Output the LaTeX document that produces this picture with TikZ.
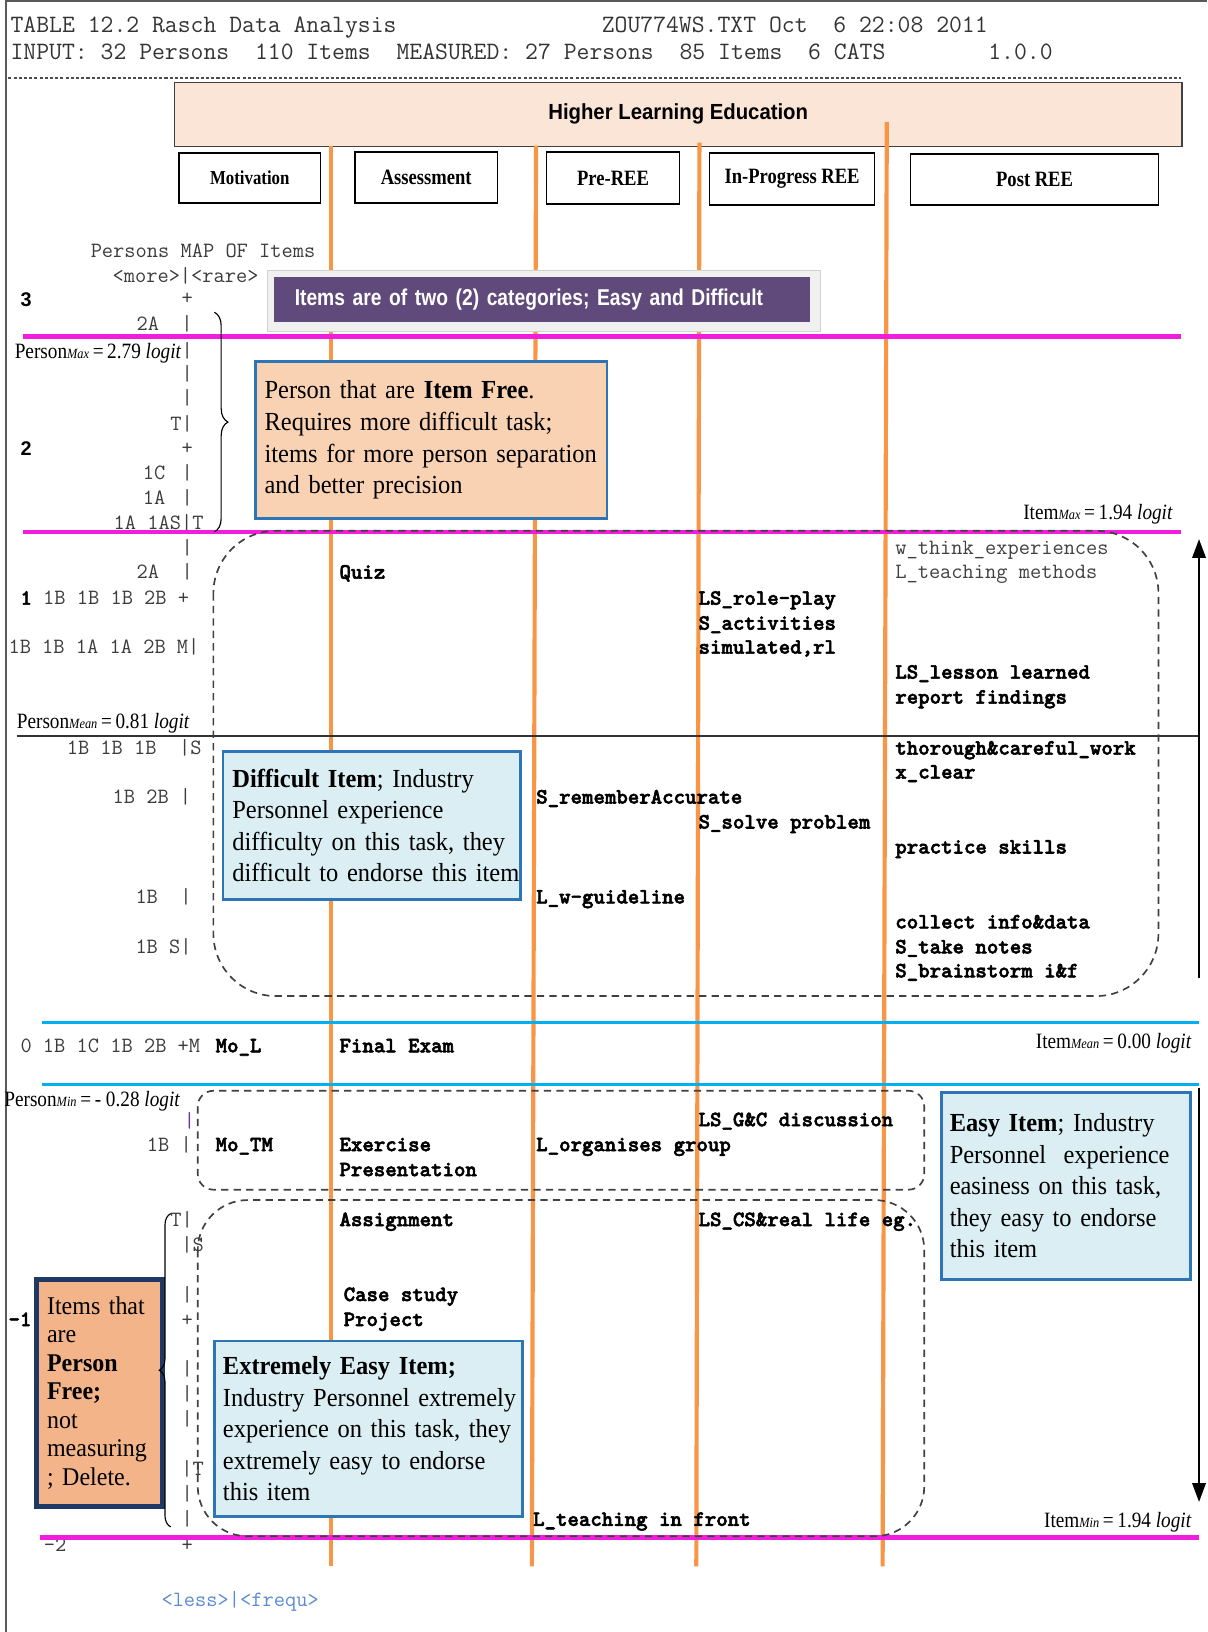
\documentclass[tikz,border=0pt]{standalone}
\usepackage{fontspec}
\setmainfont{Liberation Serif}
\newfontfamily\monob{lmmonolt10-bold.otf}[FakeBold=2.5]
\newfontfamily\hlsans[FakeStretch=0.93]{Liberation Sans}
\newfontfamily\ppsans[FakeStretch=0.84]{Liberation Sans}
\newfontfamily\nserif[FakeStretch=0.88]{Liberation Serif}
\newfontfamily\bserif[FakeStretch=0.85]{Liberation Serif}
\newfontfamily\cserif[FakeStretch=0.94]{Liberation Serif}
\newfontfamily\numsans{Liberation Sans}
\usetikzlibrary{arrows.meta,decorations.pathreplacing}
\definecolor{orangeL}{HTML}{F79646}
\definecolor{magL}{HTML}{F01EDC}
\definecolor{cyanL}{HTML}{00B0F0}
\definecolor{hdrfill}{HTML}{FBE5D6}
\definecolor{peach}{HTML}{F9D2B3}
\definecolor{lblue}{HTML}{DAEEF3}
\definecolor{bborder}{HTML}{2E75B6}
\definecolor{purp}{HTML}{604A7B}
\definecolor{navy}{HTML}{203864}
\definecolor{pfree}{HTML}{F3B48A}
\definecolor{maptxt}{HTML}{3C3C3C}
\definecolor{lessblue}{HTML}{5B8BD0}
\definecolor{pipepurple}{HTML}{7030A0}
\newcommand{\lgl}[3]{#1{\fontsize{13.5}{14}\selectfont\itshape #2}\,=\,#3 \textit{logit}}
\begin{document}
\begin{tikzpicture}[x=1pt,y=-1pt,
 mapt/.style={font={\ttfamily\fontsize{20.95}{24}\selectfont}, text=maptxt, inner sep=0pt, anchor=base west},
 pip/.style={mapt, anchor=base},
 colt/.style={font={\monob\fontsize{20.95}{24}\selectfont}, text=black, inner sep=0pt, anchor=base west},
 colr/.style={font={\ttfamily\fontsize{20.95}{24}\selectfont}, text=black!75, inner sep=0pt, anchor=base west},
 hdrt/.style={font={\ttfamily\fontsize{24}{26}\selectfont}, text=black!80, inner sep=0pt, anchor=base west},
 lglw/.style={font={\nserif\fontsize{21}{24}\selectfont}, inner sep=0pt, anchor=base west},
 lgle/.style={lglw, anchor=base east},
 subbox/.style={draw=black, line width=1.2pt, fill=white, font={\bserif\bfseries\fontsize{21}{24}\selectfont}, inner sep=0pt},
 callout/.style={draw=bborder, line width=2.5pt, fill=lblue, font={\cserif\fontsize{25}{30.3}\selectfont}, align=left, inner xsep=9pt, inner ysep=0pt, anchor=north west},
 dbox/.style={draw=black!75, dash pattern=on 7pt off 5pt, line width=1.6pt},
 orl/.style={orangeL, line width=4pt},
 magl/.style={magL, line width=4.5pt},
 cyl/.style={cyanL, line width=3pt},
 numb/.style={font={\numsans\bfseries\fontsize{19}{22}\selectfont}, text=black, inner sep=0pt, anchor=base},
]
\useasboundingbox (0,0) rectangle (1160,1568);
\fill[white] (0,0) rectangle (1160,1568);
% frame
\draw[black!65, line width=2pt] (6,0) -- (6,1568);
\draw[black!65, line width=2pt] (6,1) -- (1160,1);
% header text
\node[hdrt] (h1) at (10,31) {TABLE 12.2 Rasch Data Analysis};
\node[hdrt] (h2) at (578,31) {ZOU774WS.TXT Oct~~6 22:08 2011};
\node[hdrt] (h3) at (10,57) {INPUT: 32 Persons~~110 Items~~MEASURED: 27 Persons~~85 Items~~6 CATS~~~~~~~~1.0.0};
\draw[black!70, dash pattern=on 3pt off 2pt, line width=1.2pt] (8,75) -- (1135,75);
% header boxes
\node[draw=black!75, line width=1.2pt, fill=hdrfill, minimum width=968pt, minimum height=61pt, anchor=north west, inner sep=0pt,
  font={\hlsans\bfseries\fontsize{21}{24}\selectfont}] (hle) at (167,79) {\raisebox{6pt}{Higher Learning Education}};
\node[subbox, minimum width=136pt, minimum height=48pt, font={\bserif\bfseries\fontsize{19}{22}\selectfont}] (mot) at (240,171) {Motivation};
\node[subbox, minimum width=137pt, minimum height=49pt] (ass) at (409.5,170.5) {Assessment};
\node[subbox, minimum width=128pt, minimum height=50pt] (pre) at (589,171) {Pre-REE};
\node[subbox, minimum width=158pt, minimum height=50pt] (inp) at (761,172) {In-Progress REE};
\node[subbox, minimum width=238pt, minimum height=49pt] (post) at (994,172.5) {Post REE};
% orange column lines
\draw[orl] (318,140) -- (318,1505);
\draw[orl] (515,140) -- (511,1505);
\draw[orl] (672,137) -- (669,1505);
\draw[orl] (852,117) -- (848,1505);
% map header
\node[mapt] (mh1) at (87,247) {Persons MAP OF Items};
\node[mapt] (mh2) at (108,271) {<more>|<rare>};
% map rows
\node[numb] (n3) at (25,294) {3};
\node[pip] (p287) at (180,293) {+};
\node[mapt] (r312) at (131,318) {2A~~|};
\node[pip] (p337) at (180,343) {|};
\node[pip] (p360) at (180,366) {|};
\node[pip] (p383) at (180,389) {|};
\node[mapt] (r408) at (163.5,414) {T|};
\node[numb] (n2) at (25,438) {2};
\node[pip] (p431) at (180,437) {+};
\node[mapt, anchor=base east] (r455) at (159,461) {1C};
\node[pip] (p455) at (180,461) {|};
\node[mapt, anchor=base east] (r479) at (159,485) {1A};
\node[pip] (p479) at (180,485) {|};
\node[mapt] (r503) at (109,509) {1A 1AS|T};
\node[pip] (p527) at (180,533) {|};
\node[mapt, anchor=base east] (r550) at (153,556) {2A};
\node[pip] (p550) at (180,556) {|};
\node[mapt] (r575) at (19.5,581) {{\monob\color{black}1} 1B 1B 1B 2B +};
\node[mapt] (r622) at (8,628) {1B 1B 1A 1A 2B M|};
\node[mapt] (r719) at (64,725) {1B 1B 1B~~|S};
\node[mapt] (r766) at (108,772) {1B 2B |};
\node[mapt] (r862) at (130,868) {1B~~|};
\node[mapt] (r910) at (130,916) {1B S|};
\node[mapt] (r1005) at (19.5,1011) {0 1B 1C 1B 2B +M};
\node[colt] (mol) at (207,1011) {Mo\_L};
\node[pip, text=pipepurple] (p1077) at (182,1083) {|};
\node[mapt] (r1100) at (141,1106) {1B |};
\node[colt] (motm) at (207,1106) {Mo\_TM};
\node[mapt] (r1172) at (163.5,1178) {T|};
\node[mapt] (r1196) at (174,1202) {|S};
\node[pip] (p1244) at (180,1250) {|};
\node[colt] (r1268) at (8,1274) {-1};
\node[pip] (p1268) at (180,1274) {+};
\node[pip] (p1316) at (180,1322) {|};
\node[pip] (p1340) at (180,1346) {|};
\node[pip] (p1364) at (180,1370) {|};
\node[mapt] (r1412) at (174,1418) {|T};
\node[pip] (p1436) at (180,1442) {|};
\node[pip] (p1460) at (180,1466) {|};
\node[mapt] (r1485) at (42,1491) {-2};
\node[pip] (p1485) at (180,1491) {+};
\node[mapt, text=lessblue] (less) at (155,1543) {<less>|<frequ>};
% logit labels
\node[lglw] (pmax) at (14,344) {\lgl{Person}{Max}{2.79}};
\node[lgle] (imax) at (1127,499) {\lgl{Item}{Max}{1.94}};
\node[lglw] (pmean) at (16,700) {\lgl{Person}{Mean}{0.81}};
\node[lgle] (imean) at (1145,1007) {\lgl{Item}{Mean}{0.00}};
\node[lglw] (pmin) at (4,1063) {\lgl{Person}{Min}{- 0.28}};
\node[lgle] (imin) at (1145,1468) {\lgl{Item}{Min}{1.94}};
% column items
\node[colt] (c1) at (326,556) {Quiz};
\node[colt] (c2) at (326,1011) {Final Exam};
\node[colt] (c3) at (326,1106) {Exercise};
\node[colt] (c4) at (326,1130) {Presentation};
\node[colt] (c5) at (326,1178) {Assignment};
\node[colt] (c6) at (330,1250) {Case study};
\node[colt] (c7) at (330,1274) {Project};
\node[colt] (c8) at (515,772) {S\_rememberAccurate};
\node[colt] (c9) at (515,868) {L\_w-guideline};
\node[colt] (c10) at (515,1106) {L\_organises group};
\node[colt] (c11) at (512,1466) {L\_teaching in front};
\node[colt] (c12) at (671,581) {LS\_role-play};
\node[colt] (c13) at (671,605) {S\_activities};
\node[colt] (c14) at (671,628) {simulated,rl};
\node[colt] (c15) at (671,796) {S\_solve problem};
\node[colt] (c16) at (671,1082) {LS\_G\&C discussion};
\node[colt] (c17) at (671,1178) {LS\_CS\&real life eg.};
\node[colr] (c18) at (860,533) {w\_think\_experiences};
\node[colr] (c19) at (860,556) {L\_teaching methods};
\node[colt] (c20) at (860,652) {LS\_lesson learned};
\node[colt] (c21) at (860,676) {report findings};
\node[colt] (c22) at (860,725) {thorough\&careful\_work};
\node[colt] (c23) at (860,748) {x\_clear};
\node[colt] (c24) at (860,820) {practice skills};
\node[colt] (c25) at (860,892) {collect info\&data};
\node[colt] (c26) at (860,916) {S\_take notes};
\node[colt] (c27) at (860,939) {S\_brainstorm i\&f};
% horizontal lines
\draw[magl] (22,323) -- (1135,323);
\draw[magl] (22,511) -- (1135,511);
\draw[magl] (38,1477) -- (1152,1477);
\draw[cyl] (40,982) -- (1152,982);
\draw[cyl] (40,1042) -- (1152,1042);
\draw[black!80, line width=1.3pt] (16,707) -- (1152,707);
% dashed groups
\draw[dbox, rounded corners=60pt] (205,510) rectangle (1113,957);
\draw[dbox, rounded corners=15pt] (190,1048) rectangle (888,1143);
\draw[dbox, rounded corners=48pt] (190,1153) rectangle (888,1476);
% purple banner
\node[fill=black!6, draw=black!18, minimum width=531pt, minimum height=59pt, anchor=north west, inner sep=0pt] (pout) at (257,259) {};
\node[fill=purp, text=white, font={\ppsans\bfseries\fontsize{22}{24}\selectfont}, minimum width=515pt, minimum height=43pt,
  anchor=north west, text width=475pt, inner xsep=20pt, inner ysep=0pt, align=left] (pin) at (263,266) {\mbox{Items are of two (2) categories; Easy and Difficult}};
% callouts
\node[callout, fill=peach, text width=320pt, minimum height=151pt] (pbox) at (244,346)
 {\mbox{Person that are \textbf{Item Free}.}\\\mbox{Requires more difficult task;}\\\mbox{items for more person separation}\\\mbox{and better precision}};
\node[callout, text width=268pt, minimum height=142pt] (dbx) at (213,721)
 {\mbox{\textbf{Difficult Item}; Industry}\\\mbox{Personnel experience}\\\mbox{difficulty on this task, they}\\\mbox{difficult to endorse this item}};
\node[callout, line width=3pt, text width=223pt, inner xsep=8pt, minimum height=180pt] (ebx) at (903,1048)
 {\mbox{\textbf{Easy Item}; Industry}\\\mbox{Personnel\ \ experience}\\\mbox{easiness on this task,}\\\mbox{they easy to endorse}\\\mbox{this item}};
\node[callout, text width=280pt, inner xsep=8pt, minimum height=169pt] (xbx) at (205,1287)
 {\mbox{\textbf{Extremely Easy Item;}}\\\mbox{Industry Personnel extremely}\\\mbox{experience on this task, they}\\\mbox{extremely easy to endorse}\\\mbox{this item}};
\node[draw=navy, line width=4.5pt, fill=pfree, anchor=north west, align=left, text width=101pt, inner xsep=10pt, inner ysep=0pt,
  minimum height=218pt, font={\cserif\fontsize{24.5}{27.3}\selectfont}] (pfb) at (33,1227)
 {\mbox{Items that}\\\mbox{are}\\\mbox{\textbf{Person}}\\\mbox{\textbf{Free;}}\\\mbox{not}\\\mbox{measuring}\\\mbox{; Delete.}};
% braces
\coordinate (bt1) at (206,300);
\coordinate (bt2) at (206,511);
\draw[decorate, decoration={brace, amplitude=13pt}, line width=1.1pt] (bt1) -- (bt2);
\coordinate (bb1) at (164,1467);
\coordinate (bb2) at (164,1166);
\draw[decorate, decoration={brace, amplitude=11pt}, line width=1.1pt] (bb1) -- (bb2);
% arrows
\coordinate (au1) at (1152,940);
\coordinate (au2) at (1152,518);
\draw[line width=1.5pt, -{Triangle[length=18pt,width=13pt]}] (au1) -- (au2);
\coordinate (ad1) at (1152,1045);
\coordinate (ad2) at (1152,1443);
\draw[line width=1.5pt, -{Triangle[length=18pt,width=13pt]}] (ad1) -- (ad2);
\end{tikzpicture}
\end{document}
